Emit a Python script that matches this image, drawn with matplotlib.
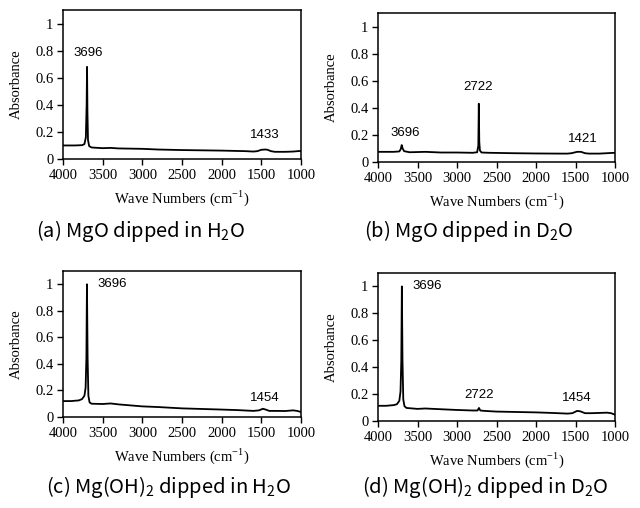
import numpy as np
import matplotlib
matplotlib.use("Agg")
import matplotlib.pyplot as plt
from matplotlib.ticker import FixedLocator, FuncFormatter

# spectra: (wavenumber, absorbance)
wn_a = [4000, 3850, 3760, 3730, 3712, 3702, 3697, 3692, 3685, 3670, 3640, 3500, 3400, 3300,
        3000, 2800, 2500, 2000, 1700, 1600, 1550, 1500, 1450, 1420, 1380, 1330, 1200, 1100, 1000]
abs_a = [0.10, 0.10, 0.102, 0.11, 0.16, 0.40, 0.68, 0.35, 0.14, 0.095, 0.085, 0.08, 0.082, 0.078,
         0.075, 0.07, 0.066, 0.062, 0.058, 0.055, 0.058, 0.068, 0.07, 0.068, 0.058, 0.053, 0.053, 0.055, 0.06]

wn_b = [4000, 3800, 3730, 3712, 3700, 3688, 3670, 3600, 3400, 3200, 3000, 2800, 2745, 2730,
        2724, 2718, 2710, 2690, 2600, 2300, 2000, 1700, 1600, 1550, 1480, 1430, 1380, 1330,
        1200, 1000]
abs_b = [0.075, 0.075, 0.078, 0.095, 0.125, 0.10, 0.08, 0.072, 0.075, 0.07, 0.07, 0.068, 0.072, 0.12,
         0.43, 0.15, 0.085, 0.07, 0.068, 0.065, 0.063, 0.062, 0.062, 0.065, 0.075, 0.075, 0.065, 0.062,
         0.062, 0.068]

wn_c = [4000, 3900, 3800, 3760, 3730, 3715, 3705, 3698, 3690, 3680, 3665, 3640, 3500, 3400,
        3300, 3000, 2800, 2500, 2000, 1800, 1600, 1530, 1480, 1440, 1400, 1300, 1200, 1100, 1050, 1000]
abs_c = [0.12, 0.12, 0.125, 0.135, 0.16, 0.22, 0.45, 1.0, 0.45, 0.16, 0.11, 0.1, 0.098, 0.102,
         0.095, 0.08, 0.075, 0.065, 0.056, 0.052, 0.046, 0.05, 0.062, 0.055, 0.046, 0.046, 0.045, 0.05, 0.046, 0.038]

wn_d = [4000, 3900, 3800, 3760, 3730, 3715, 3705, 3698, 3690, 3680, 3665, 3640, 3500, 3400,
        3300, 3000, 2800, 2740, 2722, 2705, 2650, 2500, 2000, 1800, 1600, 1540, 1480, 1440,
        1380, 1300, 1200, 1100, 1050, 1000]
abs_d = [0.113, 0.113, 0.118, 0.125, 0.15, 0.22, 0.45, 1.0, 0.45, 0.16, 0.11, 0.097, 0.09, 0.093,
         0.09, 0.082, 0.078, 0.078, 0.097, 0.078, 0.075, 0.07, 0.064, 0.06, 0.055, 0.058, 0.075, 0.072,
         0.058, 0.058, 0.06, 0.062, 0.058, 0.047]

series = [(wn_a, abs_a), (wn_b, abs_b), (wn_c, abs_c), (wn_d, abs_d)]

peak_labels = [
    [("3696", 3685, 0.785), ("1433", 1454, 0.18)],
    [("3696", 3658, 0.215), ("2722", 2734, 0.55), ("1421", 1405, 0.17)],
    [("3696", 3382, 1.0), ("1454", 1454, 0.14)],
    [("3696", 3380, 1.0), ("2722", 2722, 0.19), ("1454", 1481, 0.17)],
]

captions = ["(a) MgO dipped in H$_\\mathregular{2}$O",
            "(b) MgO dipped in D$_\\mathregular{2}$O",
            "(c) Mg(OH)$_\\mathregular{2}$ dipped in H$_\\mathregular{2}$O",
            "(d) Mg(OH)$_\\mathregular{2}$ dipped in D$_\\mathregular{2}$O"]

x_ticks = [4000, 3500, 3000, 2500, 2000, 1500, 1000]
y_ticks = [0, 0.2, 0.4, 0.6, 0.8, 1.0]

# axes boxes in pixels: left, top, right, bottom
W, H = 640, 508
boxes = [(63, 10, 301, 159), (378, 13, 615, 162), (63, 271, 301, 417), (378, 273, 615, 421)]
caption_pos = [(36, 231), (364, 231), (46, 487), (362, 487)]

serif = ["Liberation Serif", "DejaVu Serif"]

fig = plt.figure(figsize=(6.4, 5.08), dpi=100)

for i, (wn, ab) in enumerate(series):
    l, t, r, b = boxes[i]
    ax = fig.add_axes([l / W, 1 - b / H, (r - l) / W, (b - t) / H])
    ax.plot(wn, ab, color="black", lw=1.3)
    ax.set_xlim(4000, 1000)
    ax.set_ylim(0, 1.1)
    ax.xaxis.set_major_locator(FixedLocator(x_ticks))
    ax.yaxis.set_major_locator(FixedLocator(y_ticks))
    ax.yaxis.set_major_formatter(FuncFormatter(lambda v, p: "0" if v == 0 else ("1" if v == 1 else f"{v:.1f}")))
    ax.tick_params(direction="out", length=4, width=1, labelsize=10.5, pad=3)
    for lab in ax.get_xticklabels() + ax.get_yticklabels():
        lab.set_family(serif)
    for sp in ax.spines.values():
        sp.set_linewidth(1.1)
    ax.set_xlabel("Wave Numbers (cm$^{\\mathregular{-1}}$)", family=serif, fontsize=10.5)
    ax.xaxis.set_label_coords(0.5, -0.2)
    ax.set_ylabel("Absorbance", family=serif, fontsize=10.5)
    ax.yaxis.set_label_coords(-0.17, 0.5)
    for txt, x, y in peak_labels[i]:
        ax.text(x, y, txt, ha="center", va="center", fontsize=9.5, family="Liberation Sans")
    cx, cy = caption_pos[i]
    fig.text(cx / W, 1 - cy / H, captions[i], ha="left", va="center", fontsize=14.5,
             family=["Noto Sans CJK JP", "DejaVu Sans"])

fig.savefig("out.png", dpi=100)
